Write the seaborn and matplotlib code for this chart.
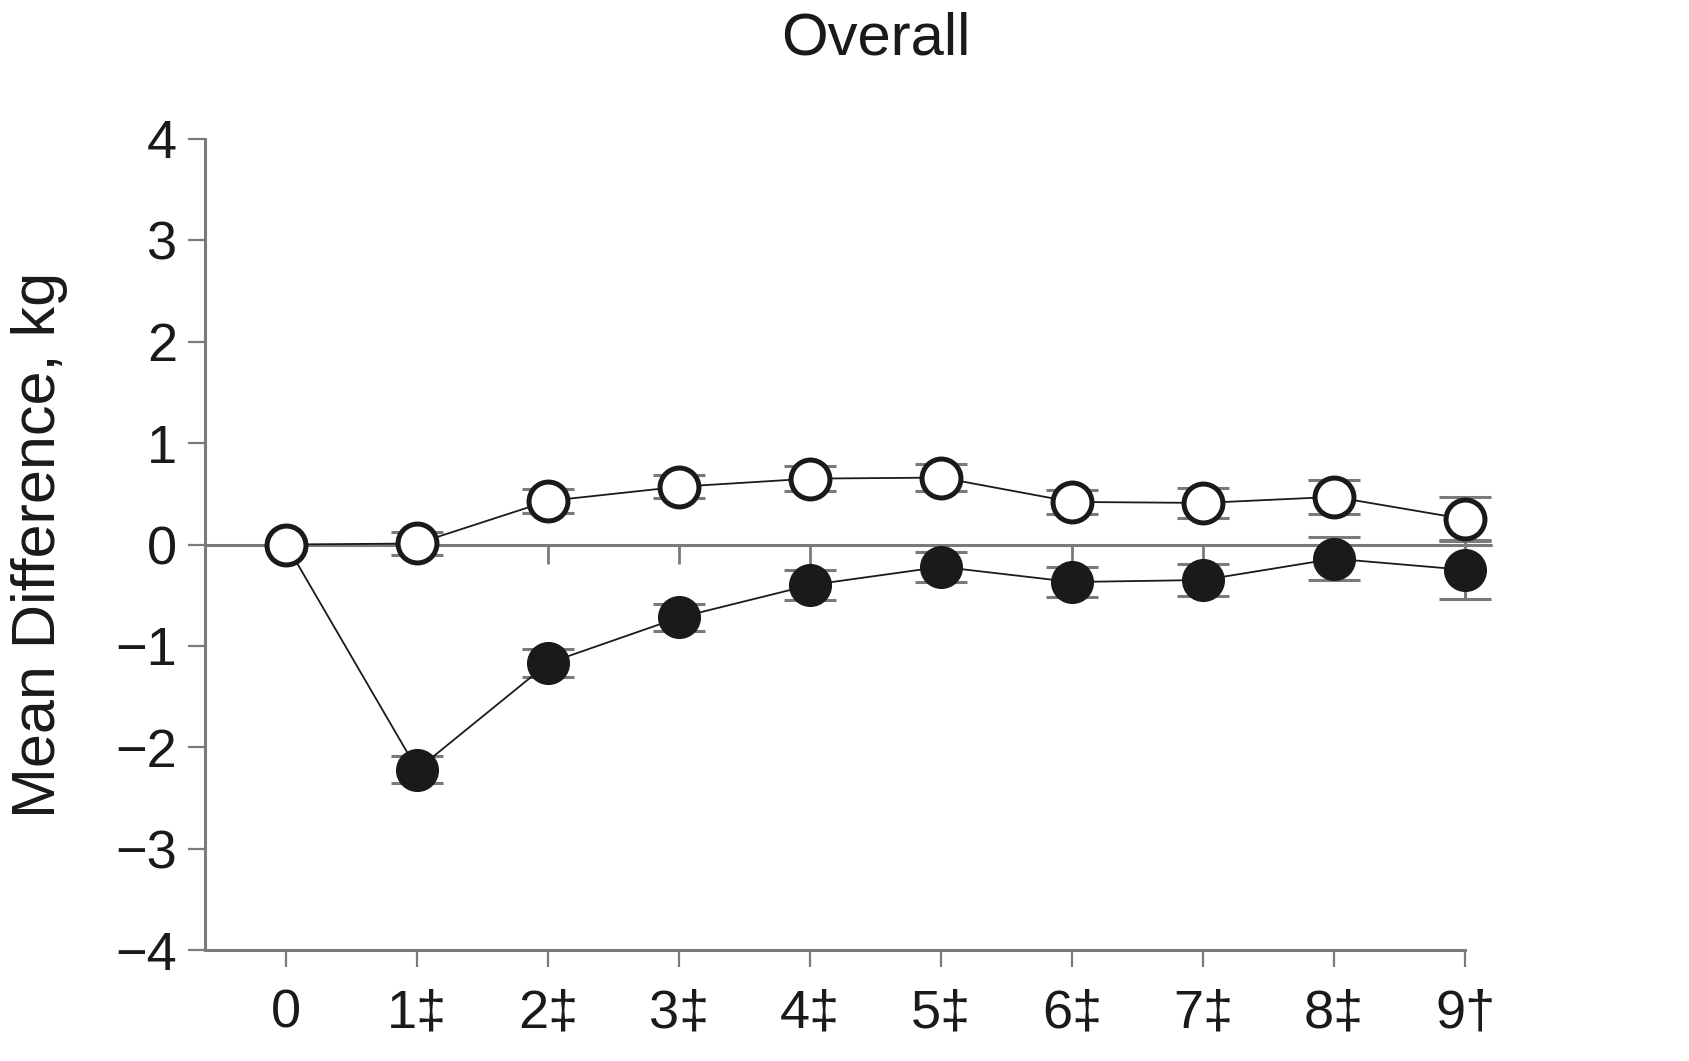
import numpy as np
import pandas as pd
import matplotlib
matplotlib.use("Agg")
import matplotlib.pyplot as plt
import seaborn as sns

# ---- data ----
visits = [0, 1, 2, 3, 4, 5, 6, 7, 8, 9]
visit_labels = ["0", "1\u2021", "2\u2021", "3\u2021", "4\u2021", "5\u2021", "6\u2021", "7\u2021", "8\u2021", "9\u2020"]
open_mean = [0.0, 0.01, 0.43, 0.57, 0.65, 0.66, 0.42, 0.41, 0.47, 0.25]
open_err = [0.0, 0.11, 0.12, 0.115, 0.12, 0.13, 0.12, 0.15, 0.17, 0.22]
filled_mean = [0.0, -2.22, -1.17, -0.72, -0.40, -0.22, -0.37, -0.35, -0.14, -0.25]
filled_err = [0.0, 0.13, 0.135, 0.13, 0.15, 0.15, 0.15, 0.16, 0.21, 0.29]
title = "Overall"
ylabel = "Mean Difference, kg"
yticks = [-4, -3, -2, -1, 0, 1, 2, 3, 4]

df_open = pd.DataFrame({"visit": visits, "diff": open_mean})
df_filled = pd.DataFrame({"visit": visits, "diff": filled_mean})

sns.set_style("ticks")
plt.rcParams["font.family"] = ["Liberation Sans", "DejaVu Sans"]
plt.rcParams["axes.unicode_minus"] = True

fig = plt.figure(figsize=(16.9, 10.61), dpi=100)
ax = fig.add_axes([0.1213, 0.1046, 0.7457, 0.7644])

grey = "#7a7a7a"
ink = "#1a1a1a"

# zero reference line with small downward ticks
ax.plot([-0.62, 9.2], [0, 0], color=grey, lw=2.2, zorder=1, clip_on=False)
ax.vlines(visits[1:], -0.19, 0, color=grey, lw=2.0, zorder=1)

# error bars
for m, e in [(filled_mean, filled_err), (open_mean, open_err)]:
    eb = ax.errorbar(visits[1:], m[1:], yerr=e[1:], fmt="none",
                     ecolor=grey, elinewidth=2.2, capsize=19, capthick=2.2, zorder=2)
    for art in eb.get_children():
        art.set_clip_on(False)

# series
sns.lineplot(data=df_filled, x="visit", y="diff", ax=ax, color=ink, lw=1.3,
             marker="o", markersize=30, markerfacecolor=ink, markeredgecolor=ink,
             markeredgewidth=1, zorder=3)
sns.lineplot(data=df_open, x="visit", y="diff", ax=ax, color=ink, lw=1.3,
             marker="o", markersize=28, markerfacecolor="white", markeredgecolor=ink,
             markeredgewidth=3.6, zorder=4)
for ln in ax.lines:
    ln.set_clip_on(False)

ax.set_xlim(-0.62, 9)
ax.set_ylim(-4, 4)
ax.set_xticks(visits)
ax.set_xticklabels(visit_labels)
ax.set_yticks(yticks)
ax.set_xlabel("")
ax.set_ylabel(ylabel, fontsize=44, color=ink, labelpad=34)

for s in ["top", "right"]:
    ax.spines[s].set_visible(False)
for s in ["left", "bottom"]:
    ax.spines[s].set_color(grey)
    ax.spines[s].set_linewidth(2.2)

ax.tick_params(axis="both", which="major", length=12, width=1.6, color=grey,
               labelsize=39, labelcolor=ink, direction="out")
ax.tick_params(axis="x", pad=16)
ax.tick_params(axis="y", pad=8)

fig.text(0.518, 0.949, title, ha="center", va="baseline", fontsize=43, color=ink)

fig.savefig("out.png", dpi=100, facecolor="white")
